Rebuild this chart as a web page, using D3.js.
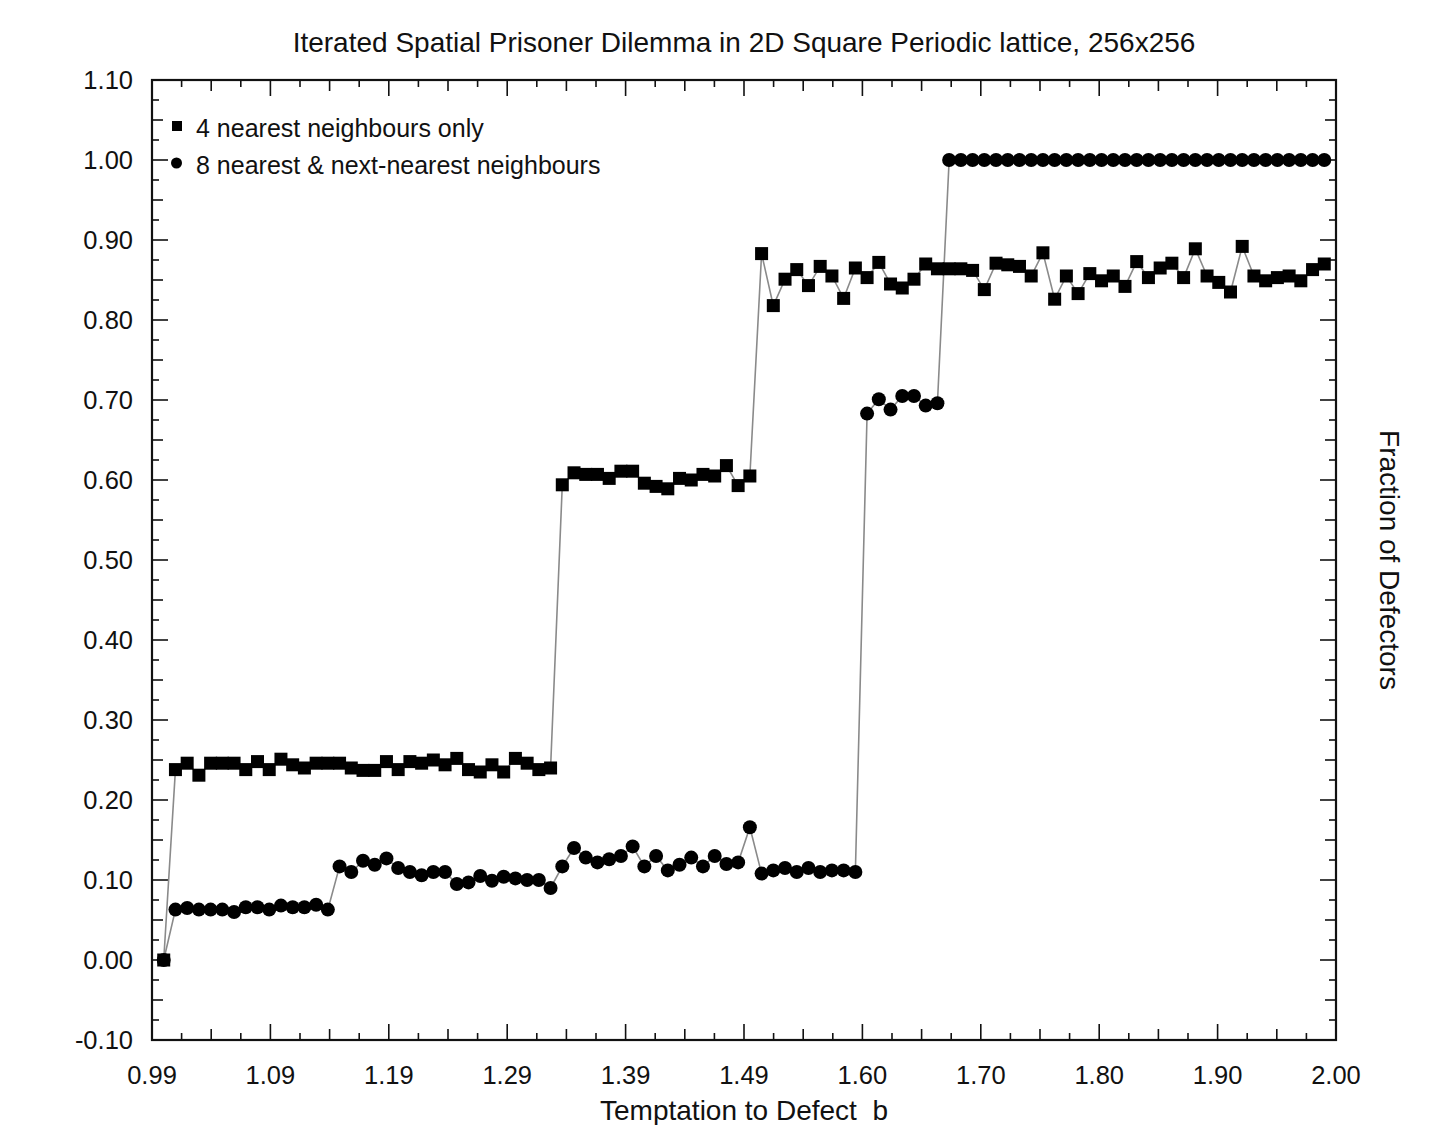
<!DOCTYPE html>
<html lang="en">

<head>
    <meta charset="UTF-8">
    <title>Iterated Spatial Prisoner Dilemma</title>
    <script src="https://d3js.org/d3.v7.min.js"></script>
    <style>
        body { margin: 0; background: #fff; }
        text { font-family: "Liberation Sans", Arial, Helvetica, sans-serif; fill: #111; }
    </style>
</head>

<body>
    <svg id="chart" width="1432" height="1125"></svg>

    <script>
        // Temptation to defect b (x values)
        const bValues = [
            1.00, 1.01, 1.02, 1.03, 1.04, 1.05, 1.06, 1.07, 1.08, 1.09,
            1.10, 1.11, 1.12, 1.13, 1.14, 1.15, 1.16, 1.17, 1.18, 1.19,
            1.20, 1.21, 1.22, 1.23, 1.24, 1.25, 1.26, 1.27, 1.28, 1.29,
            1.30, 1.31, 1.32, 1.33, 1.34, 1.35, 1.36, 1.37, 1.38, 1.39,
            1.40, 1.41, 1.42, 1.43, 1.44, 1.45, 1.46, 1.47, 1.48, 1.49,
            1.50, 1.51, 1.52, 1.53, 1.54, 1.55, 1.56, 1.57, 1.58, 1.59,
            1.60, 1.61, 1.62, 1.63, 1.64, 1.65, 1.66, 1.67, 1.68, 1.69,
            1.70, 1.71, 1.72, 1.73, 1.74, 1.75, 1.76, 1.77, 1.78, 1.79,
            1.80, 1.81, 1.82, 1.83, 1.84, 1.85, 1.86, 1.87, 1.88, 1.89,
            1.90, 1.91, 1.92, 1.93, 1.94, 1.95, 1.96, 1.97, 1.98, 1.99
        ];

        // 4 nearest neighbours only (squares)
        const fourNN = [
            0.000, 0.238, 0.246, 0.231, 0.246, 0.246, 0.246, 0.238, 0.248, 0.238,
            0.251, 0.244, 0.240, 0.246, 0.246, 0.246, 0.240, 0.237, 0.237, 0.248,
            0.238, 0.248, 0.246, 0.250, 0.244, 0.252, 0.238, 0.235, 0.244, 0.235,
            0.252, 0.246, 0.238, 0.240, 0.594, 0.609, 0.607, 0.607, 0.602, 0.611,
            0.611, 0.596, 0.592, 0.589, 0.602, 0.600, 0.607, 0.605, 0.618, 0.593,
            0.605, 0.883, 0.818, 0.851, 0.863, 0.843, 0.867, 0.855, 0.827, 0.865,
            0.853, 0.872, 0.845, 0.840, 0.851, 0.870, 0.864, 0.864, 0.864, 0.862,
            0.838, 0.871, 0.869, 0.867, 0.855, 0.884, 0.826, 0.855, 0.833, 0.858,
            0.849, 0.855, 0.842, 0.873, 0.853, 0.865, 0.871, 0.853, 0.889, 0.855,
            0.847, 0.835, 0.892, 0.855, 0.849, 0.853, 0.855, 0.849, 0.863, 0.870
        ];

        // 8 nearest & next-nearest neighbours (circles)
        const eightNN = [
            0.000, 0.063, 0.065, 0.063, 0.063, 0.063, 0.060, 0.066, 0.066, 0.063,
            0.068, 0.066, 0.066, 0.069, 0.063, 0.117, 0.110, 0.124, 0.119, 0.127,
            0.115, 0.110, 0.106, 0.110, 0.110, 0.095, 0.097, 0.105, 0.099, 0.104,
            0.102, 0.100, 0.100, 0.090, 0.117, 0.140, 0.128, 0.122, 0.126, 0.130,
            0.142, 0.117, 0.130, 0.112, 0.119, 0.128, 0.117, 0.130, 0.120, 0.122,
            0.166, 0.108, 0.112, 0.115, 0.110, 0.115, 0.110, 0.112, 0.112, 0.110,
            0.683, 0.701, 0.688, 0.705, 0.705, 0.693, 0.696, 1.000, 1.000, 1.000,
            1.000, 1.000, 1.000, 1.000, 1.000, 1.000, 1.000, 1.000, 1.000, 1.000,
            1.000, 1.000, 1.000, 1.000, 1.000, 1.000, 1.000, 1.000, 1.000, 1.000,
            1.000, 1.000, 1.000, 1.000, 1.000, 1.000, 1.000, 1.000, 1.000, 1.000
        ];

        const xTickLabels = ["0.99", "1.09", "1.19", "1.29", "1.39", "1.49", "1.60", "1.70", "1.80", "1.90", "2.00"];
        const yTickLabels = ["-0.10", "0.00", "0.10", "0.20", "0.30", "0.40", "0.50", "0.60", "0.70", "0.80", "0.90", "1.00", "1.10"];

        const seriesNames = ["4 nearest neighbours only", "8 nearest & next-nearest neighbours"];

        // Plot frame
        const margin = { top: 80, right: 96, bottom: 85, left: 152 };
        const width = 1432 - margin.left - margin.right;
        const height = 1125 - margin.top - margin.bottom;

        const svg = d3.select("#chart")
            .append("g")
            .attr("transform", `translate(${margin.left},${margin.top})`);

        const xScale = d3.scaleLinear().domain([0.99, 2.00]).range([0, width]);
        const yScale = d3.scaleLinear().domain([-0.10, 1.10]).range([height, 0]);

        // x ticks: 11 evenly spaced majors, with half and quarter subdivisions
        const xStep = (2.00 - 0.99) / (xTickLabels.length - 1);
        const xMajor = xTickLabels.map((d, i) => 0.99 + i * xStep);
        const xTicks = d3.range((xTickLabels.length - 1) * 4 + 1).map(k => ({
            v: 0.99 + k * xStep / 4,
            len: k % 4 === 0 ? 16 : (k % 2 === 0 ? 11 : 7)
        }));
        const yTicks = d3.range((yTickLabels.length - 1) * 4 + 1).map(k => ({
            v: -0.10 + k * 0.025,
            len: k % 4 === 0 ? 16 : (k % 2 === 0 ? 11 : 7)
        }));

        const ticks = svg.append("g").attr("stroke", "#111").attr("stroke-width", 1.6);
        // bottom & top
        ticks.selectAll(".xb").data(xTicks).join("line")
            .attr("x1", d => xScale(d.v)).attr("x2", d => xScale(d.v))
            .attr("y1", height).attr("y2", d => height - d.len);
        ticks.selectAll(".xt").data(xTicks).join("line")
            .attr("x1", d => xScale(d.v)).attr("x2", d => xScale(d.v))
            .attr("y1", 0).attr("y2", d => d.len);
        // left & right
        ticks.selectAll(".yl").data(yTicks).join("line")
            .attr("y1", d => yScale(d.v)).attr("y2", d => yScale(d.v))
            .attr("x1", 0).attr("x2", d => d.len);
        ticks.selectAll(".yr").data(yTicks).join("line")
            .attr("y1", d => yScale(d.v)).attr("y2", d => yScale(d.v))
            .attr("x1", width).attr("x2", d => width - d.len);

        // frame
        svg.append("rect")
            .attr("width", width).attr("height", height)
            .attr("fill", "none").attr("stroke", "#111").attr("stroke-width", 2.2);

        // tick labels
        svg.append("g").selectAll("text").data(xTickLabels).join("text")
            .attr("x", (d, i) => xScale(xMajor[i]))
            .attr("y", height + 35)
            .attr("dy", "0.36em")
            .attr("text-anchor", "middle")
            .style("font-size", "25.5px")
            .text(d => d);

        svg.append("g").selectAll("text").data(yTickLabels).join("text")
            .attr("x", -19)
            .attr("y", d => yScale(+d))
            .attr("dy", "0.36em")
            .attr("text-anchor", "end")
            .style("font-size", "25.5px")
            .text(d => d);

        // lines
        const line = d3.line()
            .x((d, i) => xScale(bValues[i]))
            .y(d => yScale(d));

        [eightNN, fourNN].forEach(s => {
            svg.append("path")
                .datum(s)
                .attr("fill", "none")
                .attr("stroke", "#8a8a8a")
                .attr("stroke-width", 1.6)
                .attr("d", line);
        });

        // markers
        svg.append("g").selectAll("circle").data(eightNN).join("circle")
            .attr("cx", (d, i) => xScale(bValues[i]))
            .attr("cy", d => yScale(d))
            .attr("r", 7)
            .attr("fill", "#000");

        svg.append("g").selectAll("rect").data(fourNN).join("rect")
            .attr("x", (d, i) => xScale(bValues[i]) - 6.5)
            .attr("y", d => yScale(d) - 6.5)
            .attr("width", 13).attr("height", 13)
            .attr("fill", "#000");

        // legend
        const legend = svg.append("g").attr("transform", "translate(20,46)");
        legend.append("rect").attr("x", 0).attr("y", -5).attr("width", 10).attr("height", 10).attr("fill", "#000");
        legend.append("circle").attr("cx", 4.5).attr("cy", 37).attr("r", 5.5).attr("fill", "#000");
        legend.selectAll("text").data(seriesNames).join("text")
            .attr("x", 24)
            .attr("y", (d, i) => i * 37 + 2)
            .attr("dy", "0.36em")
            .style("font-size", "25px")
            .text(d => d);

        // title and axis labels
        svg.append("text")
            .attr("x", width / 2)
            .attr("y", -38)
            .attr("dy", "0.36em")
            .attr("text-anchor", "middle")
            .style("font-size", "28px")
            .text("Iterated Spatial Prisoner Dilemma in 2D Square Periodic lattice, 256x256");

        svg.append("text")
            .attr("x", width / 2)
            .attr("y", height + 70)
            .attr("dy", "0.36em")
            .attr("text-anchor", "middle")
            .style("font-size", "28px")
            .attr("xml:space", "preserve")
            .text("Temptation to Defect  b");

        svg.append("text")
            .attr("transform", `translate(${width + 54},${height / 2})rotate(90)`)
            .attr("dy", "0.36em")
            .attr("text-anchor", "middle")
            .style("font-size", "28px")
            .text("Fraction of Defectors");
    </script>
</body>

</html>
